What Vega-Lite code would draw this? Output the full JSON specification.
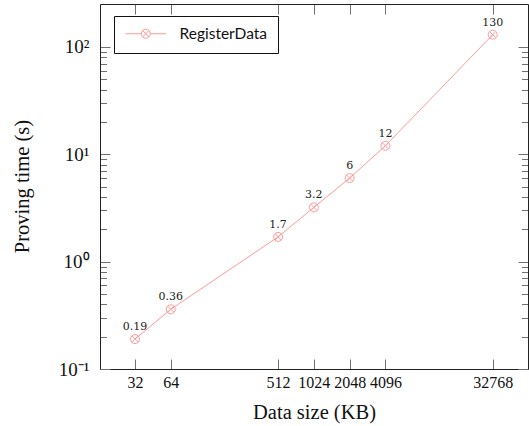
{
  "$schema": "https://vega.github.io/schema/vega-lite/v6.json",
  "width": 428,
  "height": 365,
  "autosize": {"type": "none"},
  "padding": {"left": 100, "top": 4, "right": 1, "bottom": 57},
  "background": "white",
  "config": {
    "view": {"stroke": null},
    "font": "Liberation Serif",
    "axis": {
      "grid": false,
      "labelFont": "Liberation Serif",
      "titleFont": "Liberation Serif",
      "titleFontWeight": "normal",
      "labelColor": "#111",
      "titleColor": "#111",
      "domainColor": "#222",
      "domainWidth": 1,
      "tickColor": "#707070",
      "tickWidth": 1
    }
  },
  "data": {
    "values": [
      {"size": 32, "time": 0.19, "series": "RegisterData"},
      {"size": 64, "time": 0.36, "series": "RegisterData"},
      {"size": 512, "time": 1.7, "series": "RegisterData"},
      {"size": 1024, "time": 3.2, "series": "RegisterData"},
      {"size": 2048, "time": 6, "series": "RegisterData"},
      {"size": 4096, "time": 12, "series": "RegisterData"},
      {"size": 32768, "time": 130, "series": "RegisterData"}
    ]
  },
  "layer": [
    {
      "encoding": {
        "x": {
          "field": "size",
          "type": "quantitative",
          "scale": {"type": "log", "base": 2, "domain": [16.24, 64927], "nice": false, "zero": false},
          "axis": {
            "orient": "bottom",
            "values": [32, 64, 512, 1024, 2048, 4096, 32768],
            "format": "d",
            "tickSize": -10,
            "labelFontSize": 16,
            "labelPadding": 15,
            "labelFlush": false,
            "labelOverlap": false,
            "title": "Data size (KB)",
            "titleFontSize": 20.5,
            "titleY": 49,
            "titleBaseline": "alphabetic"
          }
        },
        "y": {
          "field": "time",
          "type": "quantitative",
          "scale": {"type": "log", "domain": [0.1, 251], "nice": false, "zero": false},
          "axis": {
            "orient": "left",
            "values": [0.1, 0.2, 0.3, 0.4, 0.5, 0.6, 0.7, 0.8, 0.9, 1, 2, 3, 4, 5, 6, 7, 8, 9, 10, 20, 30, 40, 50, 60, 70, 80, 90, 100],
            "tickSize": {"condition": {"test": "indexof([0.1,1,10,100], datum.value) >= 0", "value": -10}, "value": -6.5},
            "labelExpr": "datum.value == 0.1 ? '10⁻¹' : datum.value == 1 ? '10⁰' : datum.value == 10 ? '10¹' : datum.value == 100 ? '10²' : ''",
            "labelFontSize": 19,
            "labelPadding": 21,
            "labelFlush": false,
            "labelOverlap": false,
            "title": "Proving time (s)",
            "titleFontSize": 20.5,
            "titleX": -78,
            "titleY": 182,
            "titleBaseline": "middle"
          }
        }
      },
      "layer": [
        {
          "mark": {"type": "line", "strokeWidth": 1},
          "encoding": {
            "color": {
              "field": "series",
              "type": "nominal",
              "scale": {"range": ["#ff9a9a"]},
              "legend": {
                "title": null,
                "orient": "none",
                "legendX": 14,
                "legendY": 12,
                "strokeColor": "#111",
                "fillColor": "white",
                "padding": 10,
                "symbolType": "M-4.5,0L-1,0M1,0L4.5,0M-1,0A1,1,0,1,1,1,0A1,1,0,1,1,-1,0M-0.707,-0.707L0.707,0.707M-0.707,0.707L0.707,-0.707",
                "symbolSize": 81,
                "symbolStrokeWidth": 1,
                "symbolFillColor": "transparent",
                "symbolOffset": 14,
                "labelOffset": 26,
                "labelFont": "Lato",
                "labelFontSize": 15.5,
                "labelColor": "#111"
              }
            }
          }
        },
        {
          "mark": {
            "type": "point",
            "shape": "M-1,0A1,1,0,1,1,1,0A1,1,0,1,1,-1,0M-0.707,-0.707L0.707,0.707M-0.707,0.707L0.707,-0.707",
            "size": 81,
            "filled": false,
            "strokeWidth": 1,
            "opacity": 1
          },
          "encoding": {
            "color": {"field": "series", "type": "nominal"}
          }
        },
        {
          "mark": {"type": "text", "dy": -12, "baseline": "middle", "font": "DejaVu Serif", "fontSize": 11, "color": "#222"},
          "encoding": {
            "text": {"field": "time", "type": "quantitative"}
          }
        }
      ]
    },
    {
      "mark": {"type": "point", "opacity": 0},
      "encoding": {
        "x": {
          "field": "size",
          "type": "quantitative",
          "scale": {"type": "log", "base": 2, "domain": [16.24, 64927], "nice": false, "zero": false},
          "axis": {
            "orient": "top",
            "values": [32, 64, 512, 1024, 2048, 4096, 32768],
            "tickSize": -10,
            "labels": false,
            "title": null
          }
        },
        "y": {
          "field": "time",
          "type": "quantitative",
          "scale": {"type": "log", "domain": [0.1, 251], "nice": false, "zero": false},
          "axis": {
            "orient": "right",
            "values": [0.1, 0.2, 0.3, 0.4, 0.5, 0.6, 0.7, 0.8, 0.9, 1, 2, 3, 4, 5, 6, 7, 8, 9, 10, 20, 30, 40, 50, 60, 70, 80, 90, 100],
            "tickSize": {"condition": {"test": "indexof([0.1,1,10,100], datum.value) >= 0", "value": -10}, "value": -6.5},
            "labels": false,
            "title": null
          }
        }
      }
    }
  ],
  "resolve": {"axis": {"x": "independent", "y": "independent"}}
}
